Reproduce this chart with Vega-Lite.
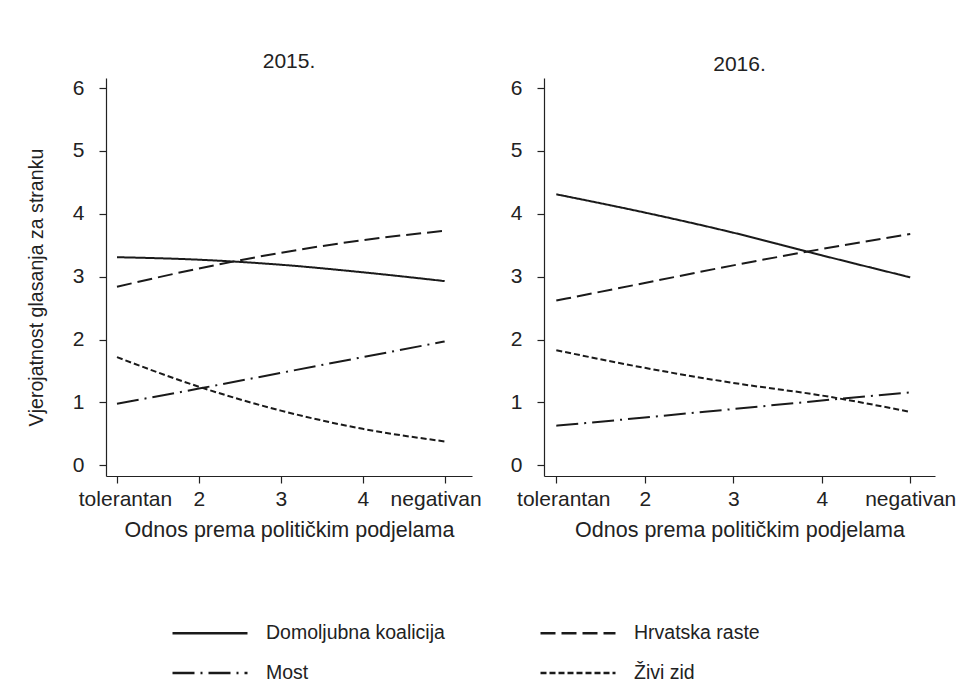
{
  "$schema": "https://vega.github.io/schema/vega-lite/v6.json",
  "background": "white",
  "padding": {"left": 26, "top": 51, "right": 5, "bottom": 5},
  "config": {
    "font": "Liberation Sans",
    "view": {"stroke": null},
    "axis": {"grid": false, "domainColor": "#222", "tickColor": "#222", "labelColor": "#222", "titleColor": "#222", "labelFont": "Liberation Sans", "titleFont": "Liberation Sans", "titleFontWeight": "normal", "labelFontSize": 21, "titleFontSize": 21.5, "tickSize": 7, "domainWidth": 1.2, "tickWidth": 1.2},
    "title": {"font": "Liberation Sans", "fontSize": 21, "fontWeight": "normal", "color": "#222"},
    "legend": {"labelFont": "Liberation Sans", "labelFontSize": 19.5, "labelColor": "#222", "labelLimit": 0}
  },
  "data": {"values": [
    {"year": "2015.", "party": "Domoljubna koalicija", "x": 1, "y": 3.31},
    {"year": "2015.", "party": "Domoljubna koalicija", "x": 2, "y": 3.27},
    {"year": "2015.", "party": "Domoljubna koalicija", "x": 3, "y": 3.19},
    {"year": "2015.", "party": "Domoljubna koalicija", "x": 4, "y": 3.07},
    {"year": "2015.", "party": "Domoljubna koalicija", "x": 5, "y": 2.93},
    {"year": "2015.", "party": "Hrvatska raste", "x": 1, "y": 2.84},
    {"year": "2015.", "party": "Hrvatska raste", "x": 2, "y": 3.13},
    {"year": "2015.", "party": "Hrvatska raste", "x": 3, "y": 3.38},
    {"year": "2015.", "party": "Hrvatska raste", "x": 4, "y": 3.58},
    {"year": "2015.", "party": "Hrvatska raste", "x": 5, "y": 3.73},
    {"year": "2015.", "party": "Most", "x": 1, "y": 0.98},
    {"year": "2015.", "party": "Most", "x": 2, "y": 1.22},
    {"year": "2015.", "party": "Most", "x": 3, "y": 1.47},
    {"year": "2015.", "party": "Most", "x": 4, "y": 1.72},
    {"year": "2015.", "party": "Most", "x": 5, "y": 1.97},
    {"year": "2015.", "party": "Živi zid", "x": 1, "y": 1.72},
    {"year": "2015.", "party": "Živi zid", "x": 2, "y": 1.25},
    {"year": "2015.", "party": "Živi zid", "x": 3, "y": 0.87},
    {"year": "2015.", "party": "Živi zid", "x": 4, "y": 0.58},
    {"year": "2015.", "party": "Živi zid", "x": 5, "y": 0.38},
    {"year": "2016.", "party": "Domoljubna koalicija", "x": 1, "y": 4.31},
    {"year": "2016.", "party": "Domoljubna koalicija", "x": 2, "y": 4.02},
    {"year": "2016.", "party": "Domoljubna koalicija", "x": 3, "y": 3.70},
    {"year": "2016.", "party": "Domoljubna koalicija", "x": 4, "y": 3.34},
    {"year": "2016.", "party": "Domoljubna koalicija", "x": 5, "y": 2.99},
    {"year": "2016.", "party": "Hrvatska raste", "x": 1, "y": 2.62},
    {"year": "2016.", "party": "Hrvatska raste", "x": 2, "y": 2.90},
    {"year": "2016.", "party": "Hrvatska raste", "x": 3, "y": 3.18},
    {"year": "2016.", "party": "Hrvatska raste", "x": 4, "y": 3.44},
    {"year": "2016.", "party": "Hrvatska raste", "x": 5, "y": 3.68},
    {"year": "2016.", "party": "Most", "x": 1, "y": 0.63},
    {"year": "2016.", "party": "Most", "x": 2, "y": 0.76},
    {"year": "2016.", "party": "Most", "x": 3, "y": 0.895},
    {"year": "2016.", "party": "Most", "x": 4, "y": 1.03},
    {"year": "2016.", "party": "Most", "x": 5, "y": 1.16},
    {"year": "2016.", "party": "Živi zid", "x": 1, "y": 1.83},
    {"year": "2016.", "party": "Živi zid", "x": 2, "y": 1.55},
    {"year": "2016.", "party": "Živi zid", "x": 3, "y": 1.31},
    {"year": "2016.", "party": "Živi zid", "x": 4, "y": 1.11},
    {"year": "2016.", "party": "Živi zid", "x": 5, "y": 0.85}
  ]},
  "hconcat": [
    {
      "width": 366, "height": 398,
      "title": {"text": "2015.", "offset": 5},
      "transform": [{"filter": "datum.year === '2015.'"}],
      "mark": {"type": "line", "interpolate": "monotone", "strokeWidth": 2, "color": "#1a1a1a"},
      "encoding": {
        "x": {"field": "x", "type": "quantitative", "scale": {"domain": [0.866, 5.334], "nice": false, "zero": false},
          "axis": {"values": [1, 2, 3, 4, 5], "labelExpr": "datum.value == 1 ? 'tolerantan' : datum.value == 5 ? 'negativan' : datum.label", "labelOffset": {"condition": [{"test": "datum.value == 1", "value": 8}, {"test": "datum.value == 5", "value": -9}], "value": 0}, "labelPadding": 5, "title": "Odnos prema političkim podjelama", "titlePadding": 10, "labelFlush": false}},
        "y": {"field": "y", "type": "quantitative", "scale": {"domain": [-0.17, 6.16], "nice": false, "zero": false},
          "axis": {"values": [0, 1, 2, 3, 4, 5, 6], "labelPadding": 15, "title": "Vjerojatnost glasanja za stranku", "titleFontSize": 19.6, "titlePadding": 26, "titleY": 209, "labelFlush": false}},
        "strokeDash": {"field": "party", "type": "nominal",
          "scale": {"domain": ["Domoljubna koalicija", "Hrvatska raste", "Most", "Živi zid"], "range": [[1, 0], [15, 6], [22, 6, 2, 6], [6, 3]]},
          "legend": {"title": null, "orient": "none", "legendX": 84, "legendY": 535, "direction": "horizontal", "columns": 2, "columnPadding": 90, "rowPadding": 10, "symbolType": "M-2,0H2", "symbolSize": 1406, "symbolStrokeWidth": 2.5, "symbolStrokeColor": "#1a1a1a", "symbolFillColor": "transparent", "labelOffset": 36}}
      }
    },
    {
      "width": 391, "height": 398,
      "title": {"text": "2016.", "offset": 2},
      "transform": [{"filter": "datum.year === '2016.'"}],
      "mark": {"type": "line", "interpolate": "monotone", "strokeWidth": 2, "color": "#1a1a1a"},
      "encoding": {
        "x": {"field": "x", "type": "quantitative", "scale": {"domain": [0.861, 5.28], "nice": false, "zero": false},
          "axis": {"values": [1, 2, 3, 4, 5], "labelExpr": "datum.value == 1 ? 'tolerantan' : datum.value == 5 ? 'negativan' : datum.label", "labelOffset": {"condition": {"test": "datum.value == 1", "value": 7}, "value": 0}, "labelPadding": 5, "title": "Odnos prema političkim podjelama", "titlePadding": 10, "labelFlush": false}},
        "y": {"field": "y", "type": "quantitative", "scale": {"domain": [-0.17, 6.16], "nice": false, "zero": false},
          "axis": {"values": [0, 1, 2, 3, 4, 5, 6], "labelPadding": 15, "title": null, "labelFlush": false}},
        "strokeDash": {"field": "party", "type": "nominal"}
      }
    }
  ],
  "spacing": 72,
  "bounds": "flush"
}
